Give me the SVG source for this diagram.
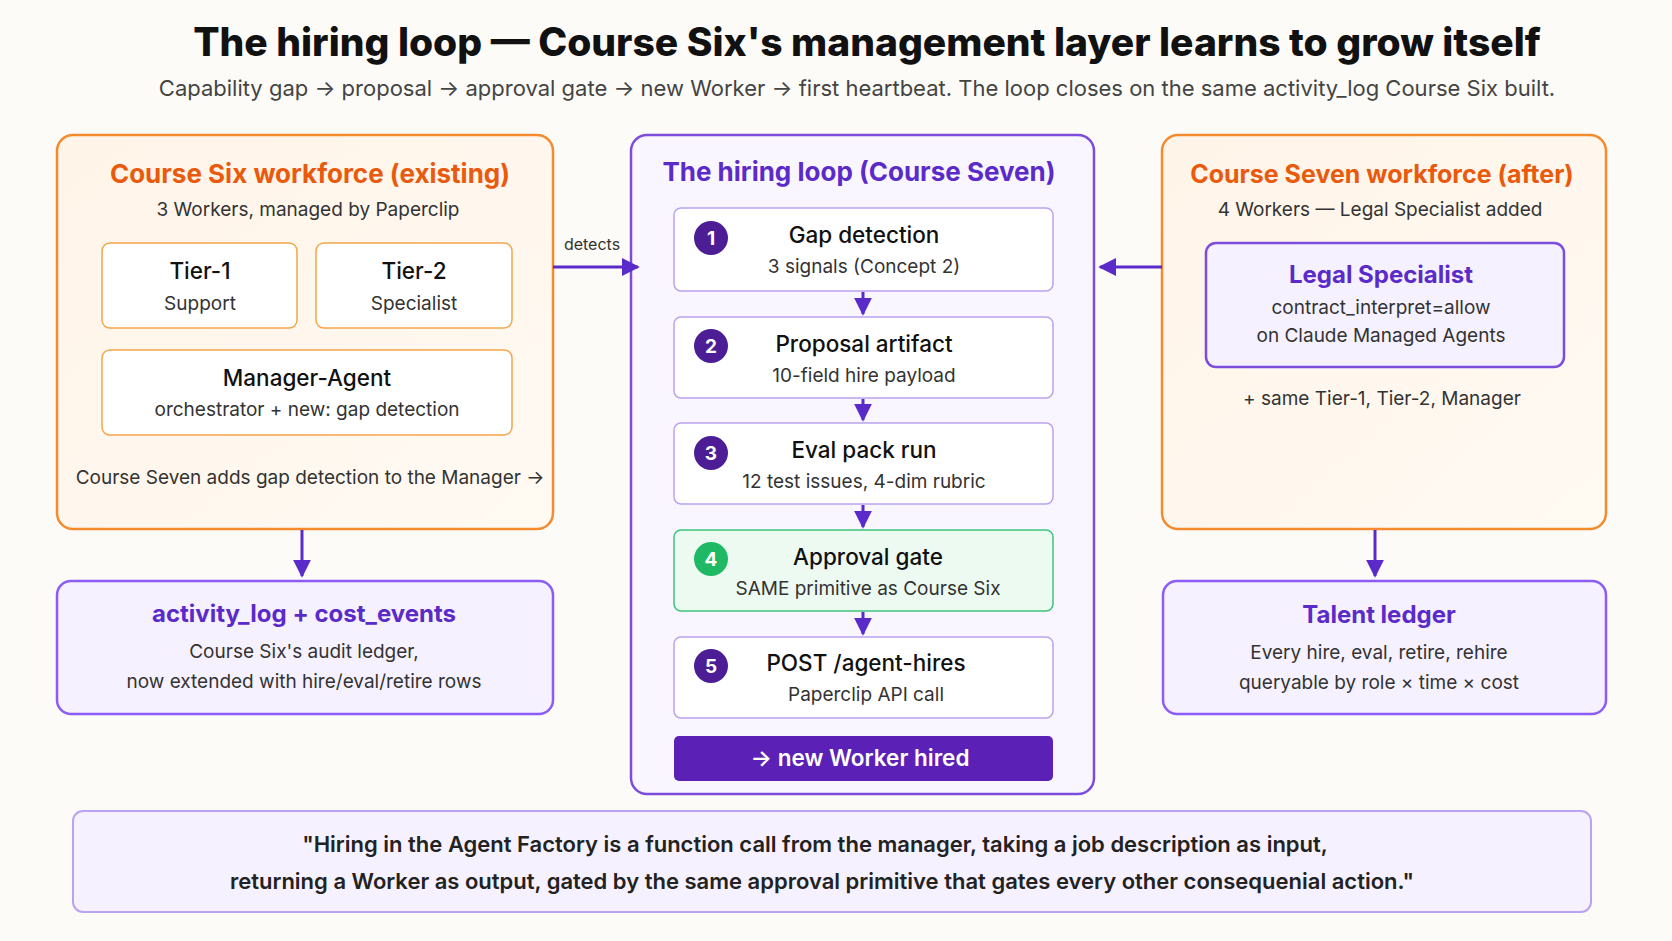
<svg xmlns="http://www.w3.org/2000/svg" width="1672" height="941" viewBox="0 0 1672 941">
<defs>
<marker id="ah" viewBox="0 0 10 10" refX="9" refY="5" markerWidth="6" markerHeight="6" orient="auto"><path d="M0,0 L10,5 L0,10 z" fill="#5b2bc9"/></marker>
<linearGradient id="og" x1="0" y1="0" x2="1" y2="1"><stop offset="0" stop-color="#fff4e8"/><stop offset="1" stop-color="#fffaf3"/></linearGradient>
</defs>
<style>
text{font-family:Inter,"Noto Sans","Liberation Sans",sans-serif;text-anchor:middle;fill:#222}
.orange{fill:url(#og);stroke:#f58a2e;stroke-width:2.5}
.ibox{fill:#fff;stroke:#f5a54a;stroke-width:1.5}
.pbox{fill:#f6f1ff;stroke:#8b5cf6;stroke-width:2.5}
.step{fill:#fff;stroke:#b9a3f0;stroke-width:1.5}
.h1{font-size:26px;font-weight:700;fill:#ea5a0c}
.hp{font-size:24px;font-weight:700;fill:#5b2bc9}
.t{font-size:22.5px;font-weight:500;fill:#111}
.s{font-size:19px;fill:#333}
.num{font-size:19px;font-weight:700;fill:#fff}
.conn{stroke:#5b2bc9;stroke-width:3;fill:none}
</style>
<rect width="1672" height="941" fill="#fdfbf7"/>
<text x="867" y="56" style="font-size:39px;font-weight:800;fill:#111">The hiring loop — Course Six's management layer learns to grow itself</text>
<text x="857" y="96" style="font-size:22px;fill:#444">Capability gap → proposal → approval gate → new Worker → first heartbeat. The loop closes on the same activity_log Course Six built.</text>

<g id="left-panel">
<rect x="57" y="135" width="496" height="394" rx="16" class="orange"/>
<text x="310" y="183" class="h1">Course Six workforce (existing)</text>
<text x="308" y="216" class="s">3 Workers, managed by Paperclip</text>
</g>
<g id="tier1"><rect x="102" y="243" width="195" height="85" rx="8" class="ibox"/><text x="200" y="279" class="t">Tier-1</text><text x="200" y="310" class="s">Support</text></g>
<g id="tier2"><rect x="316" y="243" width="196" height="85" rx="8" class="ibox"/><text x="414" y="279" class="t">Tier-2</text><text x="414" y="310" class="s">Specialist</text></g>
<g id="manager"><rect x="102" y="350" width="410" height="85" rx="8" class="ibox"/><text x="307" y="386" class="t">Manager-Agent</text><text x="307" y="416" class="s">orchestrator + new: gap detection</text></g>
<text x="310" y="484" class="s">Course Seven adds gap detection to the Manager →</text>

<g id="activity-log"><rect x="57" y="581" width="496" height="133" rx="14" class="pbox"/><text x="304" y="622" class="hp">activity_log + cost_events</text><text x="304" y="658" class="s">Course Six's audit ledger,</text><text x="304" y="688" class="s">now extended with hire/eval/retire rows</text></g>

<g id="center-panel">
<rect x="631" y="135" width="463" height="659" rx="16" fill="#f9f6ff" stroke="#7c4ddb" stroke-width="2.5"/>
<text x="859" y="181" class="hp" style="font-size:26px">The hiring loop (Course Seven)</text>
</g>
<g id="step1"><rect x="674" y="208" width="379" height="83" rx="7" class="step"/><circle cx="711" cy="238" r="17" fill="#4c1d95"/><text x="711" y="245" class="num">1</text><text x="864" y="243" class="t">Gap detection</text><text x="864" y="273" class="s">3 signals (Concept 2)</text></g>
<g id="step2"><rect x="674" y="317" width="379" height="81" rx="7" class="step"/><circle cx="711" cy="346" r="17" fill="#4c1d95"/><text x="711" y="353" class="num">2</text><text x="864" y="352" class="t">Proposal artifact</text><text x="864" y="382" class="s">10-field hire payload</text></g>
<g id="step3"><rect x="674" y="423" width="379" height="81" rx="7" class="step"/><circle cx="711" cy="453" r="17" fill="#4c1d95"/><text x="711" y="460" class="num">3</text><text x="864" y="458" class="t">Eval pack run</text><text x="864" y="488" class="s">12 test issues, 4-dim rubric</text></g>
<g id="step4"><rect x="674" y="530" width="379" height="81" rx="7" fill="#ecfaf1" stroke="#3cc57a" stroke-width="1.5"/><circle cx="711" cy="559" r="17" fill="#1fb865"/><text x="711" y="566" class="num">4</text><text x="868" y="565" class="t">Approval gate</text><text x="868" y="595" class="s">SAME primitive as Course Six</text></g>
<g id="step5"><rect x="674" y="637" width="379" height="81" rx="7" class="step"/><circle cx="711" cy="666" r="17" fill="#4c1d95"/><text x="711" y="673" class="num">5</text><text x="866" y="671" class="t">POST /agent-hires</text><text x="866" y="701" class="s">Paperclip API call</text></g>
<g id="hired"><rect x="674" y="736" width="379" height="45" rx="5" fill="#5b21b6"/><text x="860" y="766" style="font-size:22.5px;font-weight:600;fill:#fff">→ new Worker hired</text></g>

<g id="right-panel">
<rect x="1162" y="135" width="444" height="394" rx="16" class="orange"/>
<text x="1382" y="183" class="h1" style="font-size:25px">Course Seven workforce (after)</text>
<text x="1380" y="216" class="s">4 Workers — Legal Specialist added</text>
<text x="1382" y="405" class="s">+ same Tier-1, Tier-2, Manager</text>
</g>
<g id="legal"><rect x="1206" y="243" width="358" height="124" rx="10" fill="#f6f1ff" stroke="#7c4ddb" stroke-width="2.5"/><text x="1381" y="283" class="hp">Legal Specialist</text><text x="1381" y="314" class="s">contract_interpret=allow</text><text x="1381" y="342" class="s">on Claude Managed Agents</text></g>

<g id="talent"><rect x="1163" y="581" width="443" height="133" rx="14" class="pbox"/><text x="1379" y="623" class="hp">Talent ledger</text><text x="1379" y="659" class="s">Every hire, eval, retire, rehire</text><text x="1379" y="689" class="s">queryable by role × time × cost</text></g>

<g id="quote"><rect x="73" y="811" width="1518" height="101" rx="10" fill="#f6f1ff" stroke="#b9a3f0" stroke-width="2"/>
<text x="815" y="852" style="font-size:22px;font-weight:600;fill:#222">"Hiring in the Agent Factory is a function call from the manager, taking a job description as input,</text>
<text x="822" y="889" style="font-size:22px;font-weight:600;fill:#222">returning a Worker as output, gated by the same approval primitive that gates every other consequenial action."</text></g>

<g id="connectors">
<text x="592" y="250" style="font-size:16px;fill:#333">detects</text>
<path d="M553,267 H638" class="conn" marker-end="url(#ah)"/>
<path d="M1162,267 H1100" class="conn" marker-end="url(#ah)"/>
<path d="M302,530 V576" class="conn" marker-end="url(#ah)"/>
<path d="M1375,530 V576" class="conn" marker-end="url(#ah)"/>
<path d="M863,292 V314" class="conn" marker-end="url(#ah)"/>
<path d="M863,399 V420" class="conn" marker-end="url(#ah)"/>
<path d="M863,505 V527" class="conn" marker-end="url(#ah)"/>
<path d="M863,612 V634" class="conn" marker-end="url(#ah)"/>
</g>
</svg>
